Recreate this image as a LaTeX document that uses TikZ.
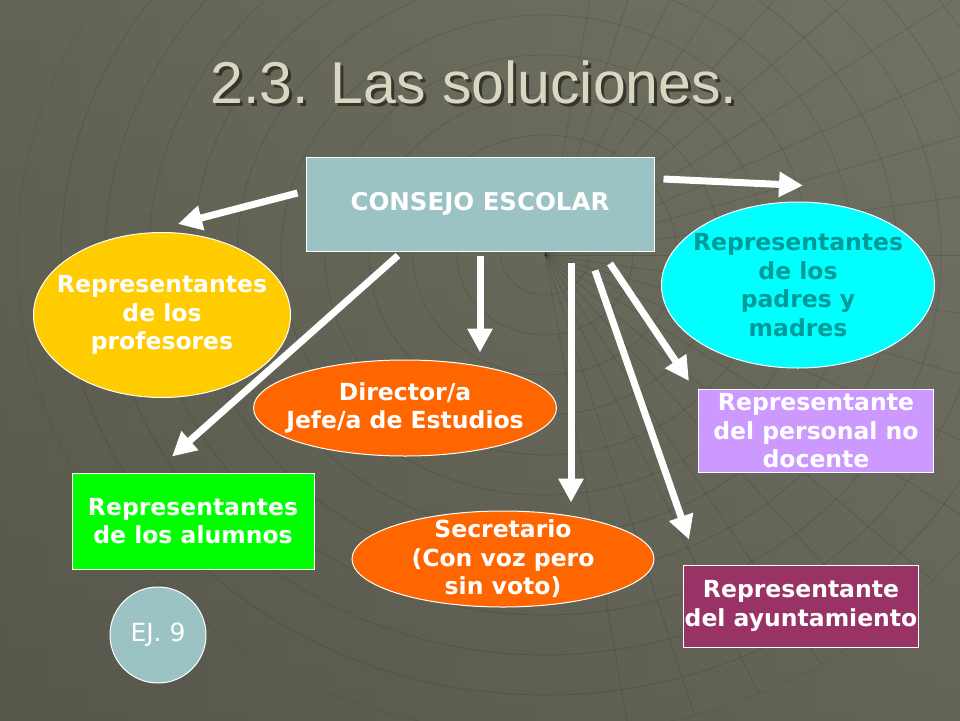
\documentclass[tikz,border=0pt]{standalone}
\usepackage{fontspec}
\setmainfont{DejaVu Sans}
\newfontfamily\titlefont{Liberation Sans}
\usetikzlibrary{arrows.meta}
\usetikzlibrary{shapes.geometric}

\definecolor{fondo}{HTML}{6C6C5D}
\definecolor{fondoosc}{HTML}{4A4A40}
\definecolor{fondoclaro}{HTML}{76766A}
\definecolor{titulo}{HTML}{D8D8C2}
\definecolor{sombra}{HTML}{35352C}
\definecolor{azulgris}{HTML}{9CC3C3}
\definecolor{amarillo}{HTML}{FFCC00}
\definecolor{cian}{HTML}{00FFFF}
\definecolor{ciantexto}{HTML}{009999}
\definecolor{naranja}{HTML}{FF6600}
\definecolor{verde}{HTML}{00FF00}
\definecolor{lila}{HTML}{CC99FF}
\definecolor{granate}{HTML}{993366}

\begin{document}
\begin{tikzpicture}[x=1pt, y=-1pt,
  flecha/.style={white, line width=7pt, -{Triangle[length=24pt,width=24pt]}},
  rejilla/.style={black, opacity=.13, line width=.7pt},
  letra/.style={font=\bfseries\fontsize{23.5}{28.5}\selectfont, align=center},
  caja/.style={rectangle, draw=white, line width=1pt, fill=#1, text=white, letra, inner sep=0pt},
  globo/.style={ellipse, draw=white, line width=1pt, fill=#1, inner sep=0pt},
  etiqueta/.style={letra, text=white, inner sep=0pt}]

  % fondo
  \useasboundingbox (0,0) rectangle (960,720);
  \shade[top color=fondo, bottom color=fondoosc] (0,0) rectangle (960,720);
  \shade[left color=fondoosc!40!fondo, right color=fondoclaro, opacity=.6] (0,0) rectangle (960,720);
  \begin{scope}
    \clip (545,255) ellipse (528 and 480);
    \foreach \a in {100,108,...,260}
      \draw[rejilla] (545,255) -- ++(\a:-700);
    \foreach \r in {40,80,...,480}
      \draw[rejilla] (545,255) ellipse ({\r*1.1} and \r);
  \end{scope}

  % titulo
  \node[font=\titlefont\fontsize{59}{70}\selectfont, text=sombra] (titulosombra) at (477,85) {2.3. Las soluciones.};
  \node[font=\titlefont\fontsize{59}{70}\selectfont, text=titulo] (titulo) at (474,82) {2.3. Las soluciones.};

  % nodos
  \node[caja=azulgris, minimum width=348pt, minimum height=94pt] (consejo) at (480,204)
    {\fontsize{24.5}{28}\selectfont CONSEJO ESCOLAR};
  \node[globo=amarillo, minimum width=257pt, minimum height=165pt,
    label={[etiqueta]center:Representantes\\de los\\profesores}] (profesores) at (162,315) {};
  \node[globo=cian, minimum width=273pt, minimum height=166pt,
    label={[etiqueta, text=ciantexto]center:Representantes\\de los\\padres y\\madres}] (padres) at (798,285) {};
  \node[globo=naranja, minimum width=303pt, minimum height=96pt,
    label={[etiqueta]center:Director/a\\Jefe/a de Estudios}] (director) at (405,408) {};
  \node[globo=naranja, minimum width=302pt, minimum height=96pt,
    label={[etiqueta]center:Secretario\\(Con voz pero\\sin voto)}] (secretario) at (503,559) {};
  \node[caja=verde, minimum width=242pt, minimum height=96pt] (alumnos) at (193,521)
    {Representantes\\de los alumnos};
  \node[caja=lila, minimum width=235pt, minimum height=83pt] (personal) at (816,431)
    {Representante\\del personal no\\docente};
  \node[caja=granate, minimum width=235pt, minimum height=82pt] (ayuntamiento) at (801,606)
    {Representante\\del ayuntamiento};
  \node[circle, draw=white, line width=1pt, fill=azulgris, minimum size=96pt, inner sep=0pt,
    text=white, font=\fontsize{25}{30}\selectfont] (ejercicio) at (158,635) {EJ. 9};

  % flechas
  \draw[flecha] ([shift={(-8,-11)}]consejo.west) -- ([shift={(16,-8)}]profesores.north);
  \draw[flecha] ([shift={(9,-25)}]consejo.east) -- ([shift={(5,-16)}]padres.north);
  \draw[flecha] ([shift={(-82,4)}]consejo.south) -- ([shift={(-21,-16)}]alumnos.north);
  \draw[flecha] ([shift={(0,4)}]consejo.south) -- ([shift={(75,-7)}]director.north);
  \draw[flecha] ([shift={(91,11)}]consejo.south) -- ([shift={(68,-8)}]secretario.north);
  \draw[flecha] ([shift={(115,19)}]consejo.south) -- ([shift={(6,-25)}]ayuntamiento.north west);
  \draw[flecha] ([shift={(130,12)}]consejo.south) -- ([shift={(-9,-8)}]personal.north west);
\end{tikzpicture}
\end{document}
